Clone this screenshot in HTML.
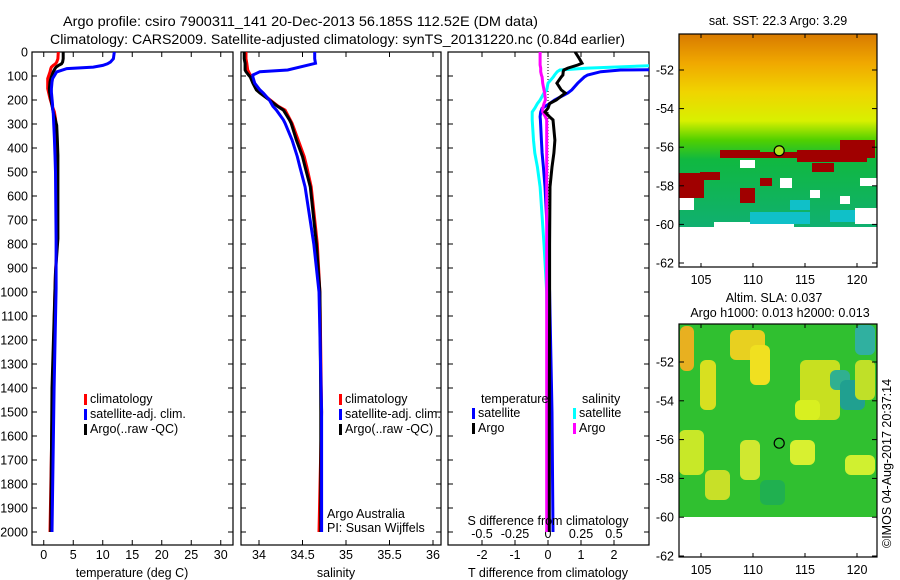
<!DOCTYPE html>
<html><head><meta charset="utf-8"><style>
html,body{margin:0;padding:0;background:#fff;}
svg{display:block;font-family:"Liberation Sans",sans-serif;}
text{font-size:12.5px;fill:#000;}
</style></head><body>
<svg id="fig" width="900" height="580" viewBox="0 0 900 580">
<text x="63" y="26" textLength="475" lengthAdjust="spacingAndGlyphs" style="font-size:14px">Argo profile: csiro 7900311_141 20-Dec-2013 56.185S 112.52E (DM data)</text>
<text x="50" y="44" textLength="575" lengthAdjust="spacingAndGlyphs" style="font-size:14px">Climatology: CARS2009. Satellite-adjusted climatology: synTS_20131220.nc (0.84d earlier)</text>
<defs>
<clipPath id="c1"><rect x="32" y="52" width="201" height="493"/></clipPath>
<clipPath id="c2"><rect x="241" y="52" width="200" height="493"/></clipPath>
<clipPath id="c3"><rect x="448" y="52" width="201" height="493"/></clipPath>
</defs>
<g id="p1"></g>
<g id="p2"></g>
<g id="p3"></g>
<g id="maps"></g>
<text x="327" y="518">Argo Australia</text>
<text x="327" y="532">PI: Susan Wijffels</text>
<text transform="translate(891,548) rotate(-90)">©IMOS 04-Aug-2017 20:37:14</text>
</svg>
<script>
// ---------- data ----------
const tDepth = [0,28,42,49,56,63,69,83,111,125,153,167,194,222,236,250,278,306,361,431,500,778,917,986,1400,2000];
const tClim  = [2.47,2.4,2.2,2.0,1.6,1.3,1.2,1.06,0.67,0.67,0.67,0.8,1.06,1.4,1.6,1.8,2.0,2.1,2.2,2.25,2.3,2.3,2.0,1.9,1.5,1.06];
const tArgo  = [3.3,3.3,3.2,3.0,2.5,2.1,1.9,1.6,1.2,1.06,0.95,1.0,1.2,1.4,1.5,1.6,1.9,2.2,2.3,2.4,2.4,2.4,2.0,1.9,1.4,1.2];
const tSat   = [11.95,11.8,11.3,10.8,10.0,8.4,3.9,2.2,1.5,1.4,1.3,1.3,1.4,1.5,1.5,1.6,1.65,1.7,1.8,1.9,2.0,2.1,2.1,2.1,1.75,1.4];
const sDepth = [0,28,47,75,82,96,104,130,158,171,200,226,242,283,297,367,436,479,562,800,1000,1500,2000];
const sClim  = [33.85,33.85,33.86,33.87,33.88,33.90,33.92,33.95,33.99,34.03,34.13,34.22,34.30,34.36,34.38,34.45,34.52,34.55,34.60,34.67,34.70,34.72,34.69];
const sArgo  = [33.83,33.83,33.84,33.84,33.85,33.88,33.90,33.93,33.97,34.01,34.12,34.21,34.28,34.35,34.37,34.43,34.50,34.53,34.59,34.66,34.70,34.71,34.71];
const sSat   = [34.64,34.64,34.65,34.33,34.01,33.93,33.93,33.95,34.01,34.05,34.12,34.16,34.20,34.28,34.30,34.38,34.44,34.47,34.53,34.63,34.69,34.72,34.72];
const dDepth = [0,28,47,54,67,75,82,96,104,130,158,171,200,215,234,250,270,283,367,421,479,562,800,1000,1500,2000];
const dTArgo = [0.82,0.95,1.03,0.9,0.6,0.48,0.46,0.45,0.40,0.27,0.40,0.52,0.25,0.05,0.0,-0.09,0.05,0.15,0.21,0.18,0.12,0.06,0.05,0.05,0.04,0.04];
const dTSat  = [9,9,9,9,9,2.2,1.6,1.2,1.1,0.9,0.72,0.6,0.2,0.05,-0.18,-0.22,-0.24,-0.23,-0.2,-0.18,-0.14,-0.09,0.0,0.05,0.12,0.15];
const dSSat  = [0.9,0.9,0.9,0.9,0.3,0.09,0.07,0.05,0.04,0.0,-0.01,-0.03,-0.06,-0.08,-0.1,-0.12,-0.12,-0.12,-0.11,-0.1,-0.08,-0.06,-0.03,-0.01,0.0,0.0];
const dSArgo = [-0.06,-0.06,-0.06,-0.06,-0.055,-0.055,-0.055,-0.05,-0.045,-0.04,-0.03,-0.025,-0.02,-0.03,-0.04,-0.04,-0.02,-0.01,-0.01,-0.01,-0.01,-0.01,-0.01,-0.01,-0.01,-0.01];
const depthTicks = [0,100,200,300,400,500,600,700,800,900,1000,1100,1200,1300,1400,1500,1600,1700,1800,1900,2000];
const tTicks = [0,5,10,15,20,25,30];
const sTicks = [34,34.5,35,35.5,36];
const sTickLabels = ["34","34.5","35","35.5","36"];
const dTTicks = [-2,-1,0,1,2];
const dSTicks = [-0.5,-0.25,0,0.25,0.5];
const dSTickLabels = ["-0.5","-0.25","0","0.25","0.5"];
const latTicks = [-52,-54,-56,-58,-60,-62];
const lonTicks = [105,110,115,120];
const argoLon = 112.52, argoLat = -56.185;

// ---------- scales ----------
const Y = d => 52 + d*0.24;
const XT = t => 43.75 + t*5.9;
const XS = s => 259 + (s-34)*87;
const XD = t => 548 + t*33;
const XDS = s => 548 + s*132;
const NS = 'http://www.w3.org/2000/svg';
function mk(tag, parent, attrs){const e=document.createElementNS(NS,tag);for(const k in attrs)e.setAttribute(k,attrs[k]);parent.appendChild(e);return e;}
function txt(parent,x,y,s,anchor){const e=mk('text',parent,{x:x,y:y,'text-anchor':anchor||'middle'});e.textContent=s;return e;}
function line(g,depths,vals,xf,color,clip,name){
  const pts=depths.map((d,i)=>xf(vals[i]).toFixed(1)+','+Y(d).toFixed(1)).join(' ');
  const p=mk('polyline',g,{points:pts,fill:'none',stroke:color,'stroke-width':3,'clip-path':'url(#'+clip+')'});
  
  
}
function frame(g,x0,x1,name){
  const r=mk('rect',g,{x:x0,y:52,width:x1-x0,height:493,fill:'none',stroke:'#000','stroke-width':1.2});
  
  
  depthTicks.forEach(d=>{mk('line',g,{x1:x0,x2:x0+5,y1:Y(d),y2:Y(d),stroke:'#000'});mk('line',g,{x1:x1,x2:x1-5,y1:Y(d),y2:Y(d),stroke:'#000'});});
}
function xticks(g,vals,xf,labels,y){
  vals.forEach((v,i)=>{const x=xf(v);mk('line',g,{x1:x,x2:x,y1:52,y2:57,stroke:'#000'});mk('line',g,{x1:x,x2:x,y1:545,y2:540,stroke:'#000'});
    const t=txt(g,x,y,labels?labels[i]:String(v));});
}
function legend(g,x,y,items){
  items.forEach((it,i)=>{mk('rect',g,{x:x,y:y+i*15-9,width:3,height:11,fill:it[1]});
    const t=txt(g,x+6,y+i*15,it[0],'start');});
}
// ---------- panel 1 ----------
const p1=document.getElementById('p1');
frame(p1,32,233,'temperature-axes');
depthTicks.forEach(d=>{const t=txt(p1,28,Y(d)+4.5,String(d),'end');});
xticks(p1,tTicks,XT,null,559);
line(p1,tDepth,tClim,XT,'#f00','c1','temperature-climatology-line');
line(p1,tDepth,tArgo,XT,'#000','c1','temperature-argo-line');
line(p1,tDepth,tSat,XT,'#00f','c1','temperature-satellite-line');
const xl1=txt(p1,132,577,'temperature (deg C)');
legend(p1,84,403,[['climatology','#f00'],['satellite-adj. clim.','#00f'],['Argo(..raw -QC)','#000']]);
// ---------- panel 2 ----------
const p2=document.getElementById('p2');
frame(p2,241,441,'salinity-axes');
xticks(p2,sTicks,XS,sTickLabels,559);
line(p2,sDepth,sClim,XS,'#f00','c2','salinity-climatology-line');
line(p2,sDepth,sArgo,XS,'#000','c2','salinity-argo-line');
line(p2,sDepth,sSat,XS,'#00f','c2','salinity-satellite-line');
const xl2=txt(p2,336,577,'salinity');
legend(p2,339,403,[['climatology','#f00'],['satellite-adj. clim.','#00f'],['Argo(..raw -QC)','#000']]);
// ---------- panel 3 ----------
const p3=document.getElementById('p3');
frame(p3,448,649,'difference-axes');
xticks(p3,dTTicks,XD,null,559);
dSTicks.forEach((v,i)=>{const t=txt(p3,XDS(v),538,dSTickLabels[i]);});
mk('line',p3,{x1:548,x2:548,y1:52,y2:210,stroke:'#000','stroke-dasharray':'1,2'});
line(p3,dDepth,dSSat,XDS,'#0ff','c3','salinity-satellite-diff-line');
line(p3,dDepth,dTSat,XD,'#00f','c3','temperature-satellite-diff-line');
line(p3,dDepth,dSArgo,XDS,'#f0f','c3','salinity-argo-diff-line');
line(p3,dDepth,dTArgo,XD,'#000','c3','temperature-argo-diff-line');
const xl3=txt(p3,548,577,'T difference from climatology');
const xl4=txt(p3,548,525,'S difference from climatology');
txt(p3,481,403,'temperature','start');txt(p3,582,403,'salinity','start');
legend(p3,472,417,[['satellite','#00f'],['Argo','#000']]);
legend(p3,573,417,[['satellite','#0ff'],['Argo','#f0f']]);
// ---------- maps ----------
const mg=document.getElementById('maps');
const LX = lon => 701 + (lon-105)*10.4;
function mapAxes(top,bot,latY,name){
  const r=mk('rect',mg,{x:679,y:top,width:198,height:bot-top,fill:'none',stroke:'#000','stroke-width':1.2});
  
  
  latTicks.forEach(l=>{const y=latY(l);mk('line',mg,{x1:679,x2:684,y1:y,y2:y,stroke:'#000'});mk('line',mg,{x1:877,x2:872,y1:y,y2:y,stroke:'#000'});
    const t=txt(mg,674,y+4.5,String(l),'end');});
  lonTicks.forEach(l=>{const x=LX(l);mk('line',mg,{x1:x,x2:x,y1:top,y2:top+4,stroke:'#000'});mk('line',mg,{x1:x,x2:x,y1:bot,y2:bot-4,stroke:'#000'});
    const t=txt(mg,x,bot+17,String(l));});
}
// top SST map
const LY1 = l => 70 + (-52-l)*19.3;
const topDefs=mk('linearGradient',document.querySelector('defs'),{id:'sst',x1:0,y1:0,x2:0,y2:1});
[[0,'#d87a00'],[0.15,'#f0a800'],[0.3,'#f0d400'],[0.45,'#d8f000'],[0.55,'#50d000'],[0.65,'#10b840'],[1,'#10b070']].forEach(s=>mk('stop',topDefs,{offset:s[0],'stop-color':s[1]}));
mk('rect',mg,{x:679,y:34,width:198,height:193,fill:'url(#sst)'});
[[720,150,40,8],[760,152,40,6],[797,150,70,12],[840,140,35,18],[812,163,22,9],[679,173,25,25],[700,172,20,8],[740,188,15,15],[760,178,12,8]].forEach(b=>mk('rect',mg,{x:b[0],y:b[1],width:b[2],height:b[3],fill:'#a00000'}));
[[740,160,15,8],[780,178,12,10],[810,190,10,8],[840,196,10,8],[860,178,17,8],[679,198,15,12],[855,208,22,16],[714,222,80,5]].forEach(b=>mk('rect',mg,{x:b[0],y:b[1],width:b[2],height:b[3],fill:'#ffffff'}));
[[750,212,60,12],[830,210,25,12],[790,200,20,10]].forEach(b=>mk('rect',mg,{x:b[0],y:b[1],width:b[2],height:b[3],fill:'#10c0c8'}));
mk('rect',mg,{x:679,y:227,width:198,height:40,fill:'#fff'});
mapAxes(34,267,LY1,'sst-map-axes');
const m1=mk('circle',mg,{cx:LX(argoLon),cy:LY1(argoLat),r:5,fill:'#b0e020',stroke:'#000','stroke-width':1.2});


const t1=txt(mg,778,25,'sat. SST: 22.3 Argo: 3.29');
// bottom SLA map
const LY2 = l => 362 + (-52-l)*19.4;
mk('rect',mg,{x:679,y:324,width:198,height:193,fill:'#30c030'});
[[680,326,14,45,'#e8b020'],[700,360,16,50,'#d8e020'],[730,330,35,30,'#e8d020'],[750,345,20,40,'#f0e020'],[800,360,40,60,'#c8e020'],[795,400,25,20,'#d8f020'],[810,400,10,20,'#d8f020'],[830,370,20,20,'#30b090'],[840,380,25,30,'#20a090'],[855,325,20,30,'#30b0a0'],[790,440,25,25,'#d8f030'],[679,430,25,45,'#c8e828'],[740,440,20,40,'#d0e830'],[845,455,30,20,'#d0f030'],[705,470,25,30,'#c8e028'],[760,480,25,25,'#20b050'],[855,360,20,40,'#c0e028']].forEach(b=>mk('rect',mg,{x:b[0],y:b[1],width:b[2],height:b[3],fill:b[4],rx:6}));
mapAxes(324,557,LY2,'sla-map-axes');
const m2=mk('circle',mg,{cx:LX(argoLon),cy:LY2(argoLat),r:5,fill:'none',stroke:'#000','stroke-width':1.2});


const t2=txt(mg,774,302,'Altim. SLA: 0.037');
const t3=txt(mg,780,317,'Argo h1000: 0.013 h2000: 0.013');
</script>
</body></html>
